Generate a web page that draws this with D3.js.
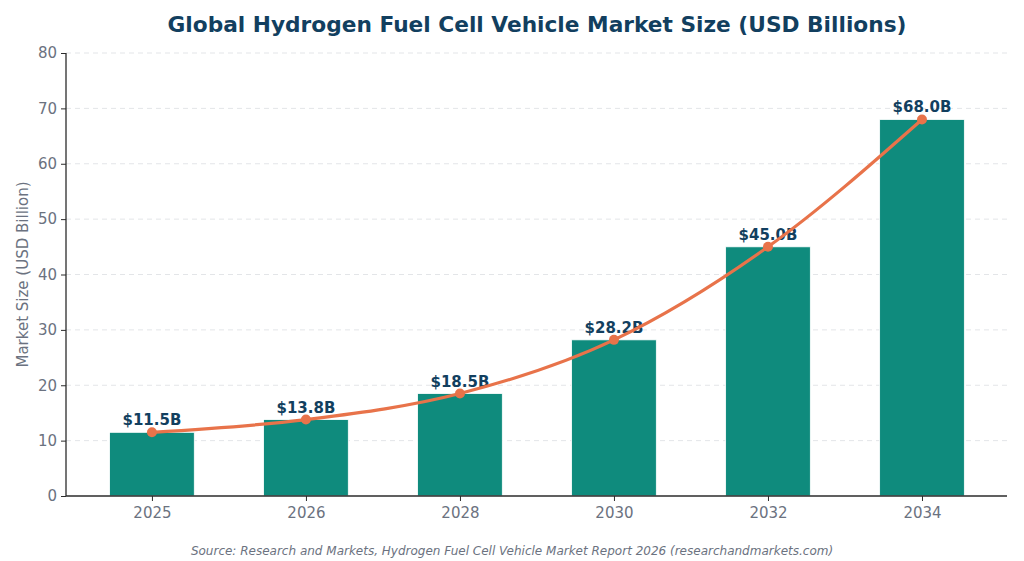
<!DOCTYPE html>
<html>
<head>
<meta charset="utf-8">
<script src="https://cdn.jsdelivr.net/npm/d3@7"></script>
<style>
  body { margin: 0; background: #fff; }
  svg { font-family: "DejaVu Sans", sans-serif; }
</style>
</head>
<body>
<svg width="1024" height="561"></svg>
<script>
// chart data
var years = ['2025', '2026', '2028', '2030', '2032', '2034'];
var marketSize = [11.5, 13.8, 18.5, 28.2, 45.0, 68.0];
var yTicks = [0, 10, 20, 30, 40, 50, 60, 70, 80];

var svg = d3.select('svg');
var plotL = 66, plotR = 1007, plotT = 53, plotB = 496;

var x = d3.scaleLinear().domain([-0.558, years.length - 0.448]).range([plotL, plotR]);
var y = d3.scaleLinear().domain([0, 80]).range([plotB, plotT]);
var barW = x(0.55) - x(0);

// grid
svg.append('g').selectAll('line')
   .data(yTicks.slice(1))
   .enter().append('line')
      .attr('x1', plotL).attr('x2', plotR)
      .attr('y1', function(d){ return y(d); })
      .attr('y2', function(d){ return y(d); })
      .attr('stroke', '#e3e5e8')
      .attr('stroke-dasharray', '5,4')
      .attr('stroke-width', 1);

// bars
svg.append('g').selectAll('rect')
   .data(marketSize)
   .enter().append('rect')
      .attr('x', function(d, i){ return x(i) - barW / 2; })
      .attr('y', function(d){ return y(d); })
      .attr('width', barW)
      .attr('height', function(d){ return plotB - y(d); })
      .attr('fill', '#0f8b7d')
      .attr('stroke', '#ffffff')
      .attr('stroke-width', 0.8);

// value labels
svg.append('g').selectAll('text')
   .data(marketSize)
   .enter().append('text')
      .attr('x', function(d, i){ return x(i); })
      .attr('y', function(d){ return y(d) - 7; })
      .attr('text-anchor', 'middle')
      .attr('font-size', 15)
      .attr('font-weight', 'bold')
      .attr('fill', '#123f5f')
      .text(function(d){ return '$' + d.toFixed(1) + 'B'; });

// trend line
var line = d3.line()
   .x(function(d, i){ return x(i); })
   .y(function(d){ return y(d); })
   .curve(d3.curveMonotoneX);

svg.append('path')
   .datum(marketSize)
   .attr('d', line)
   .attr('fill', 'none')
   .attr('stroke', '#e8734a')
   .attr('stroke-width', 3.2);

svg.append('g').selectAll('circle')
   .data(marketSize)
   .enter().append('circle')
      .attr('cx', function(d, i){ return x(i); })
      .attr('cy', function(d){ return y(d); })
      .attr('r', 5)
      .attr('fill', '#e8734a');

// axes
var yAxis = d3.axisLeft(y).tickValues(yTicks).tickSize(5).tickPadding(4);
var gy = svg.append('g').attr('transform', 'translate(' + plotL + ',0)').call(yAxis);
var xAxis = d3.axisBottom(x).tickValues(d3.range(years.length))
   .tickFormat(function(i){ return years[i]; }).tickSize(5).tickPadding(6);
var gx = svg.append('g').attr('transform', 'translate(0,' + plotB + ')').call(xAxis);

[gx, gy].forEach(function(g) {
   g.select('.domain').attr('stroke', '#2b2b2b').attr('stroke-width', 1.3)
     .attr('d', g === gy ? 'M0,' + plotT + 'V' + plotB : 'M' + plotL + ',0H' + plotR);
   g.selectAll('.tick line').attr('stroke', '#2b2b2b');
   g.selectAll('.tick text').attr('fill', '#6b7280').attr('font-size', 15)
     .attr('font-family', '"DejaVu Sans", sans-serif');
});

// titles
svg.append('text')
   .attr('x', 537).attr('y', 32)
   .attr('text-anchor', 'middle')
   .attr('font-size', 21.7)
   .attr('font-weight', 'bold')
   .attr('fill', '#123f5f')
   .text('Global Hydrogen Fuel Cell Vehicle Market Size (USD Billions)');

svg.append('text')
   .attr('transform', 'translate(28,' + ((plotT + plotB) / 2) + ') rotate(-90)')
   .attr('text-anchor', 'middle')
   .attr('font-size', 15)
   .attr('fill', '#6b7280')
   .text('Market Size (USD Billion)');

svg.append('text')
   .attr('x', 512).attr('y', 555)
   .attr('text-anchor', 'middle')
   .attr('font-size', 12)
   .attr('font-style', 'italic')
   .attr('fill', '#6b7280')
   .text('Source: Research and Markets, Hydrogen Fuel Cell Vehicle Market Report 2026 (researchandmarkets.com)');
</script>
</body>
</html>
